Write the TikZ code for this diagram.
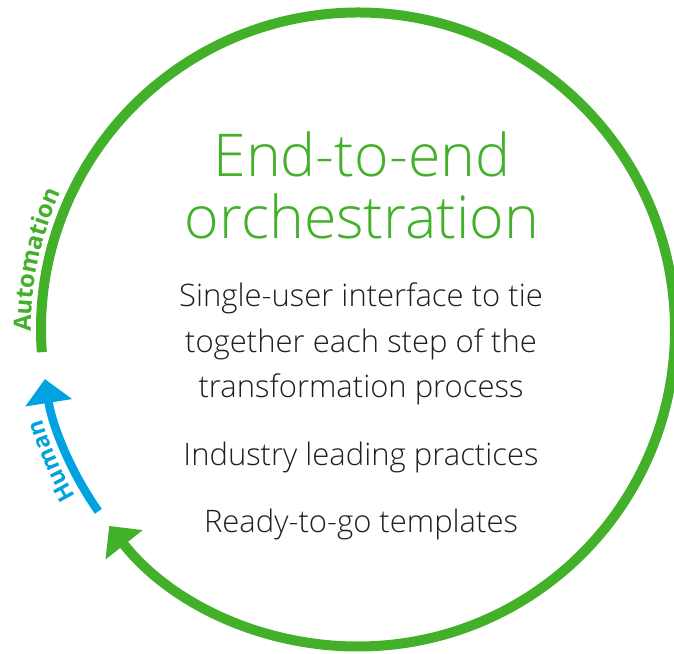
\documentclass[tikz,border=0pt]{standalone}
\usepackage{fontspec}
\setmainfont{Open Sans}
\newfontfamily\lightfont{Open Sans Light}
\usetikzlibrary{arrows.meta,decorations.text}
\definecolor{dgreen}{HTML}{43B02A}
\definecolor{dblue}{HTML}{00A3E0}
\definecolor{dtext}{HTML}{1F1F1F}
\tikzset{
  greenarc/.style={draw=dgreen, line width=10pt, line cap=butt, -{Triangle[length=24pt,width=46pt]}, dgreen},
  bluearc/.style={draw=dblue, line width=8.5pt, line cap=butt, -{Triangle[length=24pt,width=46pt]}, dblue},
  titletext/.style={anchor=base, inner sep=0pt, text=dgreen, font=\lightfont\fontsize{59}{62}\selectfont},
  bodytext/.style={anchor=base, inner sep=0pt, text=dtext, font=\lightfont\fontsize{31}{36}\selectfont},
}
\begin{document}
\begin{tikzpicture}[x=1pt,y=1pt]
\useasboundingbox (0,0) rectangle (674,653);
\coordinate (C) at (358,323.5);
% green cycle
\path (C) ++(184.1:317) coordinate (gs);
\draw[greenarc] (gs) arc[start angle=184.1, end angle=-141.7, radius=317];
% blue arc
\path (C) ++(215:317) coordinate (bs);
\draw[bluearc] (bs) arc[start angle=215, end angle=189, radius=317];
% curved labels
\path (C) ++(180.4:327) coordinate (a0);
\path[decorate, decoration={text along path, text color=dgreen, text align=left,
  text={|\bfseries\fontsize{24}{24}\selectfont|Automation}}]
  (a0) arc[start angle=180.4, end angle=140, radius=327];
\path (C) ++(210.6:328) coordinate (h0);
\path[decorate, decoration={text along path, text color=dblue, text align=left,
  text={|\bfseries\fontsize{23}{23}\selectfont|Human}}]
  (h0) arc[start angle=210.6, end angle=180, radius=328];
% title
\node[titletext] (t1) at (362,476.3) {End-to-end};
\node[titletext] (t2) at (362,414.7) {orchestration};
% body
\node[bodytext] (b1) at (361,346) {Single-user interface to tie};
\node[bodytext] (b2) at (361,300) {together each step of the};
\node[bodytext] (b3) at (361,255) {transformation process};
\node[bodytext] (b4) at (361,187) {Industry leading practices};
\node[bodytext] (b5) at (361,120) {Ready-to-go templates};
\end{tikzpicture}
\end{document}
